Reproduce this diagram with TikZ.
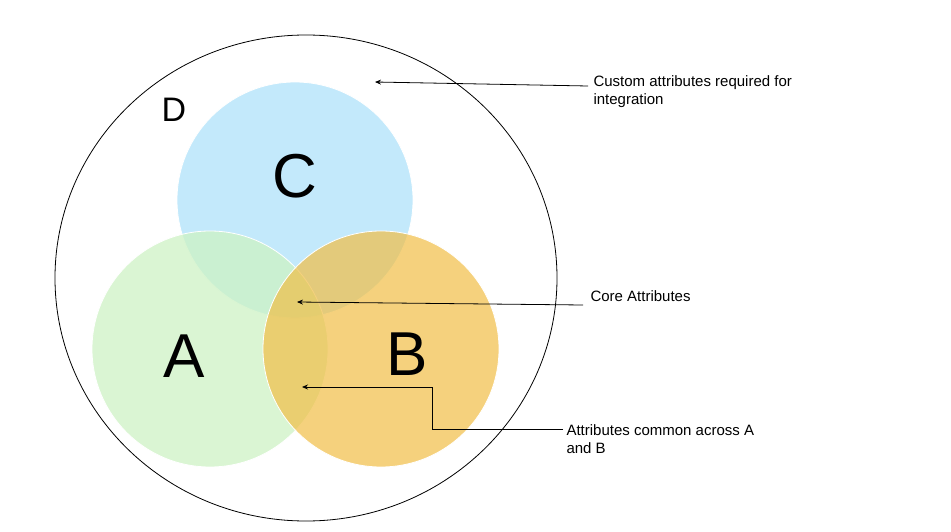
\documentclass[tikz,border=0pt]{standalone}
\usepackage{fontspec}
\setmainfont{Liberation Sans}
\usetikzlibrary{arrows.meta,shapes.geometric}
\definecolor{cblue}{RGB}{180,228,250}
\definecolor{agreen}{RGB}{205,242,196}
\definecolor{borange}{RGB}{241,190,70}

\begin{document}
\begin{tikzpicture}[x=1pt,y=-1pt,
  set/.style={circle,minimum size=236pt,inner sep=0pt,draw=white,thick},
  big label/.style={font=\fontsize{62}{62}\selectfont},
  note/.style={font=\fontsize{15}{18}\selectfont,align=left,anchor=west},
  pointer/.style={-{Stealth[length=6pt,width=5pt]},thick}]
  \useasboundingbox (0,0) rectangle (951,532);

  \node[draw=black,thick,ellipse,minimum width=502pt,minimum height=486pt,inner sep=0pt] (D) at (306,278) {};
  \node[set,fill=cblue,fill opacity=0.8] (C) at (295,200) {};
  \node[set,fill=agreen,fill opacity=0.75] (A) at (210,349) {};
  \node[set,fill=borange,fill opacity=0.7] (B) at (381,349) {};

  \node[font=\fontsize{34}{34}\selectfont] (d) at (174,110) {D};
  \node[big label] (c) at (295,176) {C};
  \node[big label] (a) at (184,356) {A};
  \node[big label] (b) at (407,354) {B};

  \node[note] (custom) at (590,92) {Custom attributes required for\\integration};
  \node[note] (core) at (587,296) {Core Attributes};
  \node[note] (common) at (563,439) {Attributes common across A\\and B};

  \coordinate (p1) at (375,82);
  \coordinate (p2) at (297,302);
  \coordinate (p3) at (302,387);
  \draw[pointer] (588,86) -- (p1);
  \draw[pointer] (583,305) -- (p2);
  \draw[pointer] (563,429) -- (432,429) -- (432,387) -- (p3);
\end{tikzpicture}
\end{document}
